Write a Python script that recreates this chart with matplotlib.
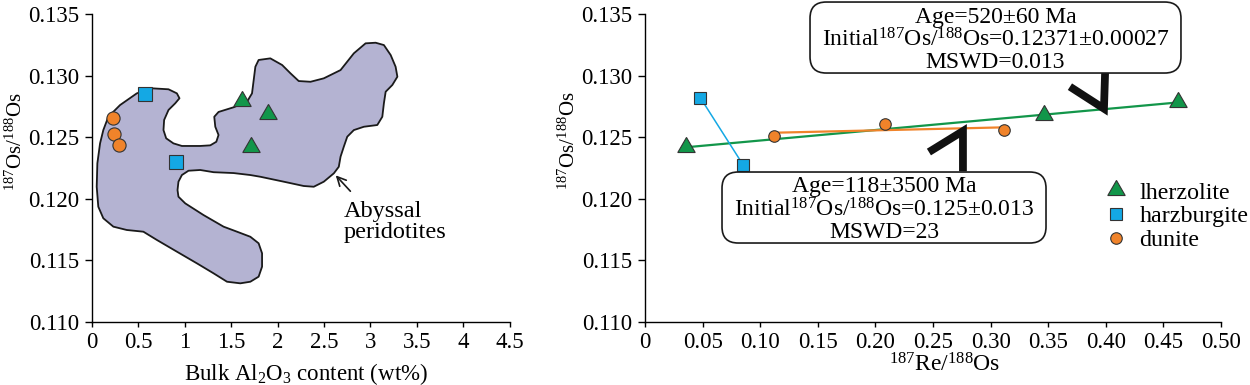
import numpy as np
import matplotlib
matplotlib.use('Agg')
import matplotlib.pyplot as plt
from matplotlib.patches import Polygon, FancyBboxPatch
from matplotlib.lines import Line2D
from matplotlib import transforms

plt.rcParams['font.family'] = ['Liberation Serif', 'DejaVu Serif']
plt.rcParams['mathtext.fontset'] = 'custom'
plt.rcParams['mathtext.rm'] = 'Liberation Serif'
plt.rcParams['mathtext.default'] = 'regular'

# left panel: Al2O3 vs 187Os/188Os
lhz_al = [1.62, 1.90, 1.71]
lhz_os_l = [0.12796, 0.12688, 0.12418]
hzb_al = [0.57, 0.91]
hzb_os_l = [0.12848, 0.12296]
dun_al = [0.235, 0.242, 0.293]
dun_os_l = [0.12653, 0.12526, 0.12437]

# abyssal peridotite field outline
field_x = [0.181, 0.307, 0.487, 0.649, 0.828, 0.918, 0.946, 0.900, 0.828, 0.781,
           0.774, 0.803, 0.881, 0.972, 1.169, 1.277, 1.342, 1.366, 1.331, 1.320,
           1.366, 1.528, 1.672, 1.726, 1.744, 1.762, 1.797, 1.923, 2.050, 2.139,
           2.228, 2.355, 2.498, 2.678, 2.821, 2.947, 3.055, 3.144, 3.217, 3.270,
           3.289, 3.235, 3.163, 3.144, 3.127, 3.073, 2.929, 2.821, 2.750, 2.713,
           2.678, 2.659, 2.606, 2.498, 2.390, 2.282, 2.067, 1.816, 1.708, 1.528,
           1.313, 1.169, 1.043, 0.972, 0.935, 0.925, 0.935, 1.008, 1.205, 1.420,
           1.565, 1.708, 1.797, 1.834, 1.834, 1.797, 1.708, 1.600, 1.457, 1.313,
           1.134, 0.918, 0.703, 0.558, 0.379, 0.235, 0.127, 0.073, 0.056, 0.063,
           0.092, 0.127]
field_y = [0.12666, 0.12761, 0.12856, 0.12897, 0.12889, 0.12856, 0.12816, 0.12775, 0.12721, 0.12640,
           0.12558, 0.12491, 0.12450, 0.12429, 0.12429, 0.12434, 0.12463, 0.12518, 0.12585, 0.12666,
           0.12705, 0.12743, 0.12788, 0.12856, 0.12964, 0.13072, 0.13127, 0.13140, 0.13086, 0.13019,
           0.12956, 0.12950, 0.12978, 0.13045, 0.13181, 0.13262, 0.13267, 0.13248, 0.13167, 0.13072,
           0.12991, 0.12924, 0.12869, 0.12775, 0.12666, 0.12599, 0.12585, 0.12558, 0.12504, 0.12423,
           0.12342, 0.12260, 0.12207, 0.12139, 0.12098, 0.12104, 0.12139, 0.12179, 0.12193, 0.12209,
           0.12216, 0.12234, 0.12228, 0.12193, 0.12139, 0.12071, 0.12017, 0.11963, 0.11868, 0.11774,
           0.11733, 0.11692, 0.11639, 0.11558, 0.11449, 0.11368, 0.11327, 0.11314, 0.11327, 0.11395,
           0.11476, 0.11571, 0.11666, 0.11733, 0.11747, 0.11774, 0.11842, 0.11936, 0.12098, 0.12288,
           0.12450, 0.12558]

# right panel: 187Re/188Os vs 187Os/188Os
lhz_re = [0.036, 0.346, 0.463]
lhz_os = [0.1242, 0.12678, 0.12786]
hzb_re = [0.048, 0.085]
hzb_os = [0.12821, 0.12278]
dun_re = [0.112, 0.208, 0.312]
dun_os = [0.12509, 0.12610, 0.12555]

green = '#12964a'
blue = '#14a8e4'
orange = '#f0832a'
edge = '#333333'
tri = (3, 0, 0)

fig = plt.figure(figsize=(12.5, 3.85), dpi=100)
ax1 = fig.add_axes([0.0732, 0.1636, 0.3348, 0.8])
ax2 = fig.add_axes([0.516, 0.1636, 0.4608, 0.8])

for ax in (ax1, ax2):
    ax.spines['top'].set_visible(False)
    ax.spines['right'].set_visible(False)
    ax.spines['left'].set_linewidth(1)
    ax.spines['bottom'].set_linewidth(1)
    ax.set_ylim(0.110, 0.135)
    ax.set_yticks(np.arange(0.110, 0.1351, 0.005))
    ax.set_yticklabels(['%.3f' % v for v in np.arange(0.110, 0.1351, 0.005)])
    ax.tick_params(axis='y', direction='out', length=5, width=1, pad=4, labelsize=16.5)
    ax.tick_params(axis='x', direction='out', length=3.5, width=1, pad=4, labelsize=16.5)

# ---- left panel
ax1.add_patch(Polygon(np.column_stack([field_x, field_y]), closed=True,
                      fc='#b4b3d2', ec='#1a1a1a', lw=1.3, joinstyle='round', zorder=1))
ax1.plot(lhz_al, lhz_os_l, ls='none', marker=tri, ms=14.5, mfc=green, mec=edge, mew=0.8, zorder=3)
ax1.plot(hzb_al, hzb_os_l, ls='none', marker='s', ms=10.5, mfc=blue, mec=edge, mew=0.8, zorder=3)
ax1.plot(dun_al, dun_os_l, ls='none', marker='o', ms=9.5, mfc=orange, mec=edge, mew=0.8, zorder=3)
ax1.annotate('', xy=(2.606, 0.12207), xytext=(2.804, 0.12045),
             arrowprops=dict(arrowstyle='->', lw=1.2, color='#1a1a1a', mutation_scale=16))
ax1.text(2.71, 0.1181, 'Abyssal\nperidotites', fontsize=17.5, ha='left', va='center',
         linespacing=1.0)
ax1.set_xlim(0, 4.5)
ax1.set_xticks(np.arange(0, 4.51, 0.5))
ax1.set_xticklabels(['%g' % v for v in np.arange(0, 4.51, 0.5)])
ax1.set_xlabel('Bulk Al$_2$O$_3$ content (wt%)', fontsize=16.5)
ax1.xaxis.set_label_coords(0.513, -0.128)
ax1.set_ylabel('$^{187}$Os/$^{188}$Os', fontsize=15)
ax1.yaxis.set_label_coords(-0.154, 0.585)

# ---- right panel
gfit = np.polyfit(lhz_re, lhz_os, 1)
ofit = np.polyfit(dun_re, dun_os, 1)
gx = np.array([min(lhz_re), max(lhz_re)])
ox = np.array([min(dun_re), max(dun_re)])
ax2.plot(gx, np.polyval(gfit, gx), color=green, lw=1.6, zorder=2)
ax2.plot(ox, np.polyval(ofit, ox), color=orange, lw=1.6, zorder=2)
ax2.plot(hzb_re, hzb_os, color=blue, lw=1.1, zorder=2)
ax2.plot(lhz_re, lhz_os, ls='none', marker=tri, ms=14.5, mfc=green, mec=edge, mew=0.8,
         zorder=3, label='lherzolite')
ax2.plot(hzb_re, hzb_os, ls='none', marker='s', ms=8.3, mfc=blue, mec=edge, mew=0.8,
         zorder=3, label='harzburgite')
ax2.plot(dun_re, dun_os, ls='none', marker='o', ms=8.3, mfc=orange, mec=edge, mew=0.8,
         zorder=3, label='dunite')
ax2.set_xlim(0, 0.5)
ax2.set_xticks(np.arange(0, 0.501, 0.05))
ax2.set_xticklabels(['0'] + ['%.2f' % v for v in np.arange(0.05, 0.501, 0.05)])
ax2.set_xlabel('$^{187}$Re/$^{188}$Os', fontsize=17)
ax2.xaxis.set_label_coords(0.52, -0.10)
ax2.set_ylabel('$^{187}$Os/$^{188}$Os', fontsize=15)
ax2.yaxis.set_label_coords(-0.113, 0.59)

ax2.legend(loc='upper left', bbox_to_anchor=(0.796, 0.455), frameon=False, fontsize=17.3,
           handlelength=1.0, handletextpad=0.5, labelspacing=0.08, borderpad=0,
           borderaxespad=0)

# result boxes
asp = 576 / 308
for x0, w, y0 in [(0.2865, 0.644, 0.8084), (0.1337, 0.5625, 0.2565)]:
    ax2.add_patch(FancyBboxPatch((x0, y0), w, 0.2305, boxstyle='round,pad=0,rounding_size=0.028',
                                 mutation_aspect=asp, transform=ax2.transAxes, fc='white',
                                 ec='#1a1a1a', lw=1.2, clip_on=False, zorder=6))

box_fs = 17
ax2.text(0.6085, 0.9718, 'Age=520±60 Ma', transform=ax2.transAxes, ha='center',
         va='baseline', fontsize=box_fs, zorder=7)
ax2.text(0.6085, 0.8938, 'Initial$^{187}$Os/$^{188}$Os=0.12371±0.00027', transform=ax2.transAxes,
         ha='center', va='baseline', fontsize=box_fs, zorder=7)
ax2.text(0.6085, 0.8237, 'MSWD=0.013', transform=ax2.transAxes, ha='center',
         va='baseline', fontsize=box_fs, zorder=7)
ax2.text(0.415, 0.423, 'Age=118±3500 Ma', transform=ax2.transAxes, ha='center',
         va='baseline', fontsize=box_fs, zorder=7)
ax2.text(0.415, 0.3419, 'Initial$^{187}$Os/$^{188}$Os=0.125±0.013', transform=ax2.transAxes,
         ha='center', va='baseline', fontsize=box_fs, zorder=7)
ax2.text(0.415, 0.2718, 'MSWD=23', transform=ax2.transAxes, ha='center',
         va='baseline', fontsize=box_fs, zorder=7)


def chevron(ax, tip, pts):
    tr = transforms.Affine2D().scale(fig.dpi / 72) + \
        transforms.ScaledTranslation(tip[0], tip[1], ax.transData)
    xs = [p[0] for p in pts]
    ys = [p[1] for p in pts]
    ln = Line2D(xs, ys, transform=tr, lw=5.6, color='#111111',
                solid_joinstyle='miter', solid_capstyle='butt', zorder=5)
    ax.add_line(ln)
    ln.set_clip_on(False)


chevron(ax2, (0.3984, 0.12732), [(-24.5, 15.8), (0, 0), (0.9, 28.5)])
chevron(ax2, (0.276, 0.1255), [(-24.5, -15.1), (0, 0), (0, -29)])

ax2.set_xlim(0, 0.5)
ax2.set_ylim(0.110, 0.135)

fig.savefig('out.png', dpi=100)
